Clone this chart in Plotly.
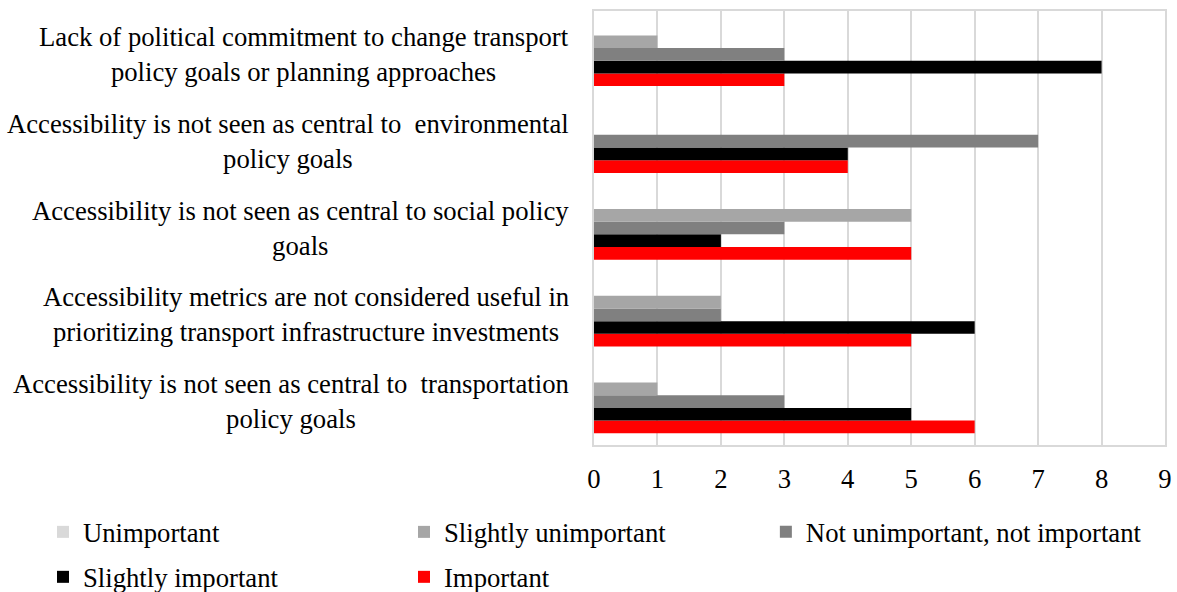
import plotly.graph_objects as go

categories = [
    "Accessibility is not seen as central to  transportation<br>policy goals",
    "Accessibility metrics are not considered useful in<br>prioritizing transport infrastructure investments",
    "Accessibility is not seen as central to social policy<br>goals",
    "Accessibility is not seen as central to  environmental<br>policy goals",
    "Lack of political commitment to change transport<br>policy goals or planning approaches",
]
series_names = ["Unimportant", "Slightly unimportant", "Not unimportant, not important",
                "Slightly important", "Important"]
unimportant = [0, 0, 0, 0, 0]
slightly_unimportant = [1, 2, 5, 0, 1]
neutral = [3, 2, 3, 7, 3]
slightly_important = [5, 6, 2, 4, 8]
important = [6, 5, 5, 4, 3]
x_ticks = list(range(0, 10))

series_values = [unimportant, slightly_unimportant, neutral, slightly_important, important]
colors = ["#d9d9d9", "#a6a6a6", "#808080", "#000000", "#ff0000"]
legend_slots = ["legend", "legend", "legend3", "legend2", "legend2"]

FONT = "Liberation Serif, Times New Roman, serif"
FS = 26.7

fig = go.Figure()
# add in reverse so "Important" sits at the bottom of each group
for name, vals, col, lg in reversed(list(zip(series_names, series_values, colors, legend_slots))):
    fig.add_trace(go.Bar(y=categories, x=vals, name=name, orientation="h", legend=lg,
                         marker=dict(color=col, line=dict(width=0))))

for c in categories:
    fig.add_annotation(text=c, xref="paper", yref="y", x=-0.040, y=c,
                       xanchor="right", yanchor="middle", align="center",
                       showarrow=False, font=dict(family=FONT, size=FS, color="#000"))

legend_base = dict(orientation="h", traceorder="reversed", xanchor="left",
                   yanchor="middle", itemwidth=30,
                   font=dict(family=FONT, size=FS, color="#000"),
                   bgcolor="rgba(0,0,0,0)")
legend_fixed = dict(legend_base, entrywidth=316, entrywidthmode="pixels")

fig.update_layout(
    width=1177, height=592,
    barmode="group", bargap=0.27, bargroupgap=0,
    plot_bgcolor="white", paper_bgcolor="white",
    margin=dict(l=594, r=12, t=11, b=147, autoexpand=False),
    font=dict(family=FONT, size=FS, color="#000"),
    showlegend=True,
    legend=dict(legend_fixed, x=-0.965, y=-0.2005),
    legend3=dict(legend_base, x=0.301, y=-0.2005),
    legend2=dict(legend_fixed, x=-0.965, y=-0.3041),
)
fig.update_xaxes(range=[0, 9], tickvals=x_ticks, showgrid=True, gridcolor="#d9d9d9",
                 gridwidth=1.5, zeroline=False, showline=True, linecolor="#d9d9d9",
                 linewidth=1.5, mirror=True, ticks="", ticklabelstandoff=9, automargin=False)
fig.update_yaxes(showticklabels=False, showgrid=False, showline=True, linecolor="#d9d9d9",
                 linewidth=1.5, mirror=True, ticks="", automargin=False)

fig.write_html("out.html", config={"displayModeBar": False},
               post_script="document.body.style.margin='0';document.body.style.overflow='hidden';")
